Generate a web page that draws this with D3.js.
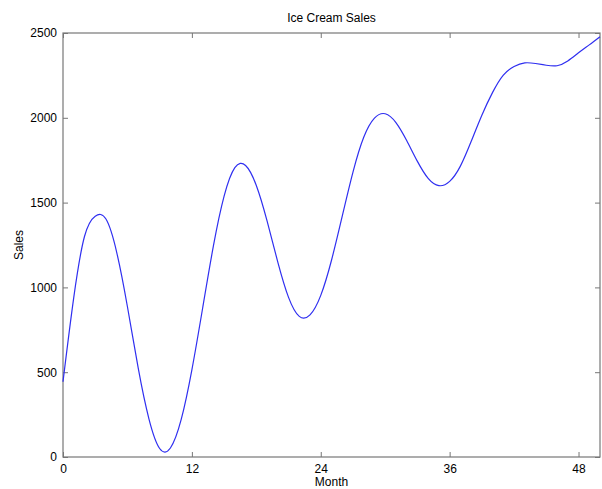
<!DOCTYPE html>
<html>
<head>
<meta charset="utf-8">
<script src="https://cdn.jsdelivr.net/npm/d3@7"></script>
<style>
  body { margin: 0; background: #fff; }
  text { font-family: "Liberation Sans", Arial, sans-serif; }
</style>
</head>
<body>
<div id="chart"></div>
<script>
// monthly sales
var months = d3.range(0, 51);
var sales = [
  444, 940, 1300, 1420, 1403, 1207, 886, 525, 225, 50,
  53, 220, 514, 877, 1243, 1538, 1706, 1719, 1601, 1392,
  1149, 941, 829, 838, 953, 1160, 1420, 1680, 1885, 1998,
  2024, 1972, 1866, 1743, 1643, 1600, 1625, 1715, 1860, 2015,
  2150, 2252, 2303, 2324, 2320, 2310, 2307, 2335, 2383, 2430,
  2478
];
var xTicks = [0, 12, 24, 36, 48];
var yTicks = [0, 500, 1000, 1500, 2000, 2500];

var data = months.map(function(m, i) { return { month: m, value: sales[i] }; });

var margin = { top: 33, right: 2, bottom: 32, left: 63 },
    width = 602 - margin.left - margin.right,
    height = 489 - margin.top - margin.bottom;

var svg = d3.select("#chart").append("svg")
    .attr("width", 602)
    .attr("height", 489)
  .append("g")
    .attr("transform", "translate(" + margin.left + "," + margin.top + ")");

var x = d3.scaleLinear().domain([0, 50]).range([0, width]);
var y = d3.scaleLinear().domain([0, 2500]).range([height, 0]);

var axisColor = "#777";
var fmt = d3.format("d");

function styleAxis(g, hideText) {
  g.select(".domain").remove();
  g.selectAll(".tick line").attr("stroke", axisColor);
  g.selectAll(".tick text")
    .attr("fill", "#000")
    .style("font-size", "12px");
  if (hideText) g.selectAll(".tick text").remove();
}

svg.append("g")
    .attr("transform", "translate(0," + height + ")")
    .call(d3.axisBottom(x).tickValues(xTicks).tickFormat(fmt).tickSize(-5).tickPadding(7))
    .call(function(g) { styleAxis(g, false); });

svg.append("g")
    .call(d3.axisTop(x).tickValues(xTicks).tickSize(-5))
    .call(function(g) { styleAxis(g, true); });

svg.append("g")
    .call(d3.axisLeft(y).tickValues(yTicks).tickFormat(fmt).tickSize(-5).tickPadding(6))
    .call(function(g) { styleAxis(g, false); });

svg.append("g")
    .attr("transform", "translate(" + width + ",0)")
    .call(d3.axisRight(y).tickValues(yTicks).tickSize(-5))
    .call(function(g) { styleAxis(g, true); });

// frame
svg.append("rect")
    .attr("width", width)
    .attr("height", height)
    .attr("fill", "none")
    .attr("stroke", axisColor)
    .attr("stroke-width", 1.2);

var line = d3.line()
    .curve(d3.curveNatural)
    .x(function(d) { return x(d.month); })
    .y(function(d) { return y(d.value); });

svg.append("path")
    .datum(data)
    .attr("fill", "none")
    .attr("stroke", "#2f2ff0")
    .attr("stroke-width", 1.2)
    .attr("d", line);

svg.append("text")
    .attr("x", width / 2)
    .attr("y", -11)
    .attr("text-anchor", "middle")
    .style("font-size", "12px")
    .text("Ice Cream Sales");

svg.append("text")
    .attr("x", width / 2)
    .attr("y", height + 29)
    .attr("text-anchor", "middle")
    .style("font-size", "12px")
    .text("Month");

svg.append("text")
    .attr("transform", "rotate(-90)")
    .attr("x", -height / 2)
    .attr("y", -40)
    .attr("text-anchor", "middle")
    .style("font-size", "12px")
    .text("Sales");
</script>
</body>
</html>
